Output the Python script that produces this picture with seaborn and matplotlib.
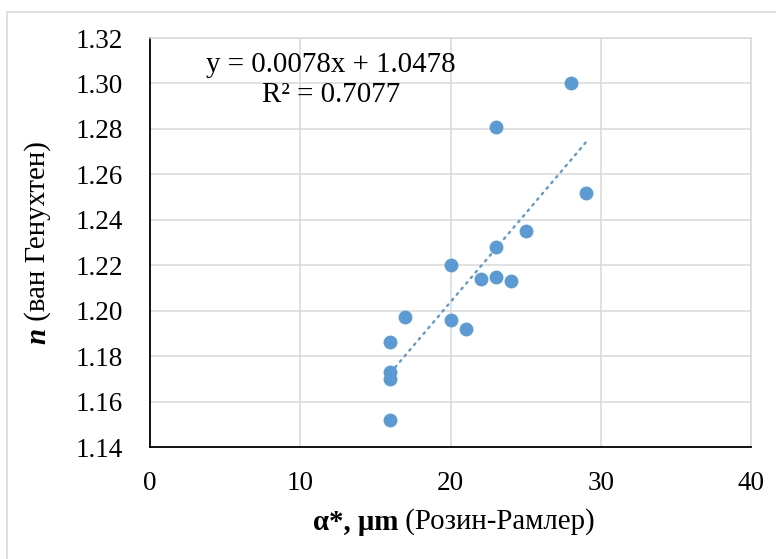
import numpy as np
import pandas as pd
import matplotlib
matplotlib.use("Agg")
import matplotlib.pyplot as plt
import seaborn as sns
from matplotlib.patches import Rectangle

# ---- data ----
alpha = [28, 23, 29, 25, 23, 20, 22, 23, 24, 17, 20, 21, 16, 16, 16, 16]
n_vals = [1.300, 1.281, 1.252, 1.235, 1.228, 1.220, 1.214, 1.215, 1.213,
          1.197, 1.196, 1.192, 1.186, 1.173, 1.170, 1.152]
slope = 0.0078
intercept = 1.0478
r2 = 0.7077
x_ticks = [0, 10, 20, 30, 40]
y_ticks = [1.14, 1.16, 1.18, 1.20, 1.22, 1.24, 1.26, 1.28, 1.30, 1.32]

sns.set_theme(style="whitegrid")
plt.rcParams['font.family'] = ['Liberation Serif', 'DejaVu Serif']
plt.rcParams['text.color'] = 'black'

df = pd.DataFrame({"alpha": alpha, "n": n_vals})
color = "#5B9BD5"
fs = 19.5
fs_lab = 20.8

fig = plt.figure(figsize=(7.76, 5.59), dpi=100)
fig.patch.set_facecolor("white")
ax = fig.add_axes([150/776, 1-447/559, 601/776, 409/559])

# chart-area border
fig.add_artist(Rectangle((7/776, -0.05), 1.2, 1 - 12/559 + 0.05, transform=fig.transFigure,
                         fill=False, edgecolor="#D9D9D9", linewidth=1.2))

xl = np.array([min(alpha), max(alpha)])
trend = pd.DataFrame({"x": xl, "y": slope * xl + intercept})
sns.lineplot(data=trend, x="x", y="y", ax=ax, color=color, linewidth=1.7,
             linestyle=(0, (0.8, 2.3)), dash_capstyle="round", zorder=2)
sns.scatterplot(data=df, x="alpha", y="n", ax=ax, color=color, s=100,
                edgecolor=color, linewidth=0, zorder=3)

ax.set_xlim(0, 40)
ax.set_ylim(1.14, 1.32)
ax.set_xticks(x_ticks)
ax.set_yticks(y_ticks)
ax.set_xticklabels([str(t) for t in x_ticks])
ax.set_yticklabels([f"{t:.2f}" for t in y_ticks])
ax.tick_params(axis="both", length=0, labelsize=fs, colors="black")
ax.tick_params(axis="x", pad=17)
ax.tick_params(axis="y", pad=19.5)
ax.grid(True, color="#D9D9D9", linewidth=1.1)
ax.set_axisbelow(True)
for s in ["top", "right"]:
    ax.spines[s].set_color("#D9D9D9")
    ax.spines[s].set_linewidth(1.1)
for s in ["left", "bottom"]:
    ax.spines[s].set_color("black")
    ax.spines[s].set_linewidth(1.3)
ax.set_xlabel("")
ax.set_ylabel("")

ax.text(12.05, 1.3015, f"y = {slope}x + {intercept}\nR² = {r2}", ha="center", va="center",
        multialignment="center", fontsize=fs_lab, linespacing=1.18, color="black")

# ---- mixed-style axis labels ----
fig.canvas.draw()
renderer = fig.canvas.get_renderer()

def mixed_label(pieces, cx, cy, rotation=0):
    texts = []
    sizes = []
    for s, kw in pieces:
        t = fig.text(0, 0, s, fontsize=fs_lab, rotation=rotation, va="center", ha="left",
                     rotation_mode="anchor", color="black", **kw)
        bb = t.get_window_extent(renderer)
        sizes.append(bb.width if rotation == 0 else bb.height)
        texts.append(t)
    total = sum(sizes)
    W, H = fig.bbox.width, fig.bbox.height
    pos = -total / 2
    for t, w in zip(texts, sizes):
        if rotation == 0:
            t.set_position(((cx + pos) / W, cy / H))
        else:
            t.set_position((cx / W, (cy + pos) / H))
        pos += w

mixed_label([("α*, μm", dict(fontweight="bold")), (" (Розин-Рамлер)", {})],
            454, 559 - 522)
mixed_label([("n", dict(fontweight="bold", fontstyle="italic")), (" (ван Генухтен)", {})],
            38, 559 - 243, rotation=90)

fig.savefig("out.png", dpi=100, facecolor="white")
